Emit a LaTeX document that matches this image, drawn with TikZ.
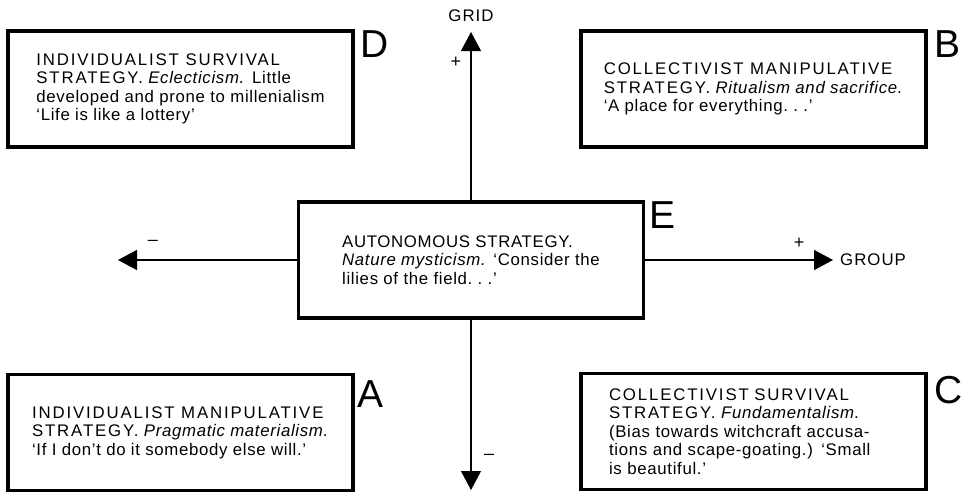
\documentclass[tikz,border=0pt]{standalone}
\usepackage{fontspec}
\setmainfont{Liberation Sans}
\usetikzlibrary{positioning,arrows.meta}

\newcommand\boxfont{\fontsize{16.8}{18.5}\selectfont\addfontfeature{LetterSpace=4}}
\newcommand\caps[1]{{\addfontfeature{LetterSpace=11}#1}}

\begin{document}
\begin{tikzpicture}[x=1pt,y=-1pt,
  quad/.style={draw, line width=3.5pt, rectangle, minimum width=345pt, minimum height=116pt,
    align=left, font=\boxfont},
  tag/.style={font=\fontsize{39}{39}\selectfont, inner sep=0pt, anchor=north west},
  axis/.style={line width=1.6pt, -{Triangle[length=19pt,width=20pt]}},
  sign/.style={font=\fontsize{18}{18}\selectfont, inner sep=0pt},
  lab/.style={font=\boxfont\addfontfeature{LetterSpace=6}, inner sep=0pt}]

\useasboundingbox (0,0) rectangle (964,491);

% the five strategies
\node[quad] at (180.5,89) (D) {\caps{INDIVIDUALIST SURVIVAL}\\
  \caps{STRATEGY.} \textit{Eclecticism.} Little\\
  developed and prone to millenialism\\
  ‘Life is like a lottery’};
\node[quad] at (753.5,89) (B) {\caps{COLLECTIVIST MANIPULATIVE}\\
  \caps{STRATEGY.} \textit{Ritualism and sacrifice.}\\
  ‘A place for everything.~.~.’};
\node[quad] at (471,260) (E) {AUTONOMOUS STRATEGY.\\
  \textit{Nature mysticism.} ‘Consider the\\
  lilies of the field.~.~.’};
\node[quad] at (180.5,432.5) (A) {\caps{INDIVIDUALIST MANIPULATIVE}\\
  \caps{STRATEGY.} \textit{Pragmatic materialism.}\\
  ‘If I don’t do it somebody else will.’};
\node[quad, text width=289pt, inner xsep=28pt] at (753.5,431.5) (C) {\caps{COLLECTIVIST SURVIVAL}\\
  \caps{STRATEGY.} \textit{Fundamentalism.}\\
  (Bias towards witchcraft accusa-\\
  tions and scape-goating.) ‘Small\\
  is beautiful.’};

% corner letters
\node[tag] at ([xshift=6pt,yshift=-1pt]D.north east) (Dtag) {D};
\node[tag] at ([xshift=7pt,yshift=-1pt]B.north east) (Btag) {B};
\node[tag] at ([xshift=4pt,yshift=-1pt]E.north east) (Etag) {E};
\node[tag] at ([xshift=3pt,yshift=-8pt]A.north east) (Atag) {A};
\node[tag] at ([xshift=7pt,yshift=-4pt]C.north east) (Ctag) {C};

% grid and group axes
\coordinate (gridtip) at (471,32);
\coordinate (gridend) at (471,490);
\coordinate (groupend) at (118,260);
\coordinate (grouptip) at (833,260);

\draw[axis, line width=1.1pt] (E.north) -- (gridtip);
\draw[axis, line width=1.1pt] (E.south) -- (gridend);
\draw[axis] (E.west) -- (groupend);
\draw[axis] (E.east) -- (grouptip);

\node[lab, above=10pt of gridtip] (grid) {GRID};
\node[lab, right=7pt of grouptip] (group) {GROUP};

\node[sign] at (456,62) (gridplus) {+};
\node[sign] at (489,457) (gridminus) {–};
\node[sign] at (799,243) (groupplus) {+};
\node[sign] at (153,243) (groupminus) {–};

\end{tikzpicture}
\end{document}
